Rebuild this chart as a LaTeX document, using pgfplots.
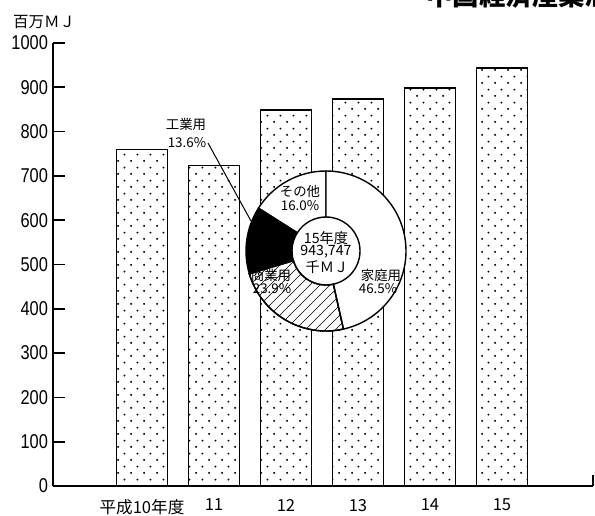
\documentclass[border=0pt]{standalone}
\usepackage{pgfplots}
\pgfplotsset{compat=1.18}
\usepackage{fontspec}
\setmainfont{Liberation Sans}
\newfontfamily\numf[FakeStretch=0.82]{Liberation Sans}
\newfontfamily\jp{Noto Sans CJK JP}
\usetikzlibrary{patterns}

% staggered dot fill of the bars
\pgfdeclarepatternformonly{sparsedots}{\pgfpointorigin}{\pgfpoint{6.4pt}{6.6pt}}{\pgfpoint{6.4pt}{6.6pt}}{
  \pgfpathcircle{\pgfpoint{1.6pt}{1.65pt}}{0.55pt}
  \pgfpathcircle{\pgfpoint{4.8pt}{4.95pt}}{0.55pt}
  \pgfusepath{fill}
}
% wide hatch for the donut
\pgfdeclarepatternformonly{widehatch}{\pgfpoint{-0.5pt}{-0.5pt}}{\pgfpoint{5.5pt}{5.5pt}}{\pgfpoint{5pt}{5pt}}{
  \pgfsetlinewidth{0.35pt}
  \pgfpathmoveto{\pgfpoint{-0.1pt}{-0.1pt}}
  \pgfpathlineto{\pgfpoint{5.1pt}{5.1pt}}
  \pgfusepath{stroke}
}

\begin{document}
\begin{tikzpicture}
\useasboundingbox (0,0) rectangle (297.5pt,257.5pt);
\begin{axis}[
  at={(26.5pt,14.5pt)}, anchor=south west, scale only axis,
  width=270pt, height=221.5pt,
  xmin=-1.236, xmax=6.264, ymin=0, ymax=1000,
  axis lines=left,
  axis line style={-, line width=0.8pt},
  ybar, bar width=25.5pt,
  ytick={0,100,...,1000},
  tick align=inside,
  y tick style={draw=none},
  x tick style={draw=none},
  xtick={0,1,2,3,4,5},
  xticklabels={{平成10年度\hspace{4pt}},11,12,13,14,15},
  xticklabel style={font=\jp\fontsize{8.3}{10}\selectfont, yshift=-3pt},
  yticklabel style={font=\numf\fontsize{10}{12}\selectfont, xshift=1pt},
  /pgf/number format/assume math mode=true,
  /pgf/number format/1000 sep={},
]
\addplot[draw=black, line width=0.7pt, pattern=sparsedots] coordinates {
  (0,760) (1,724) (2,849) (3,874) (4,898) (5,944)
};
% tick marks pointing into the plot (6pt long)
\pgfplotsinvokeforeach{100,200,300,400,500,600,700,800,900,1000}{
  \draw[line width=0.8pt] (axis cs:-1.236,#1) -- (axis cs:-1.069,#1);
}
\end{axis}

% donut: shares of 15年度
\def\sA{16.0}% その他
\def\sB{13.6}% 工業用
\def\sC{23.9}% 商業用
\def\sD{46.5}% 家庭用
\pgfmathsetmacro\aA{90}
\pgfmathsetmacro\aB{\aA+3.6*\sA}
\pgfmathsetmacro\aC{\aB+3.6*\sB}
\pgfmathsetmacro\aD{\aC+3.6*\sC}
\pgfmathsetmacro\aE{\aD+3.6*\sD}
\begin{scope}[shift={(163pt,132pt)}, line width=0.7pt]
  \fill[white] (0,0) circle (40pt);
  \foreach \a/\b/\st in {\aA/\aB/white, \aB/\aC/black, \aC/\aD/white, \aD/\aE/white}{
    \filldraw[draw=black, fill=\st] (\a:17pt) arc[start angle=\a, end angle=\b, radius=17pt]
      -- (\b:40pt) arc[start angle=\b, end angle=\a, radius=40pt] -- cycle;
  }
  \draw[pattern=widehatch] (\aC:17pt) arc[start angle=\aC, end angle=\aD, radius=17pt]
      -- (\aD:40pt) arc[start angle=\aD, end angle=\aC, radius=40pt] -- cycle;
\end{scope}

\begin{scope}[x=0.5pt, y=-0.5pt, yshift=257.5pt]
  % right end mark of the x axis
  \draw[line width=0.8pt] (593,486) -- (593,475);
  % leader line
  \draw[line width=0.5pt] (208,143) -- (251,221);
  \begin{scope}[font=\jp\fontsize{6.7}{7}\selectfont, inner sep=0pt]
    \node at (186,124) {工業用};
    \node at (187,143) {13.6\%};
    \node at (300,191) {その他};
    \node at (300,206) {16.0\%};
    \node at (271,275) {商業用};
    \node at (272,289) {23.9\%};
    \node at (381,275) {家庭用};
    \node at (378,289) {46.5\%};
  \end{scope}
  \begin{scope}[font=\jp\fontsize{7.1}{8}\selectfont, inner sep=0pt]
    \node at (326,238) {15年度};
    \node at (326,252) {943,747};
    \node at (327,267) {千ＭＪ};
  \end{scope}
  \node[anchor=west, inner sep=0pt, font=\jp\fontsize{7.75}{9}\selectfont] at (12.7,21.7) {百万ＭＪ};
  \node[anchor=base west, inner sep=0pt, font=\jp\bfseries\fontsize{13.25}{15}\selectfont] at (426,6) {中国経済産業局};
\end{scope}
\end{tikzpicture}
\end{document}
